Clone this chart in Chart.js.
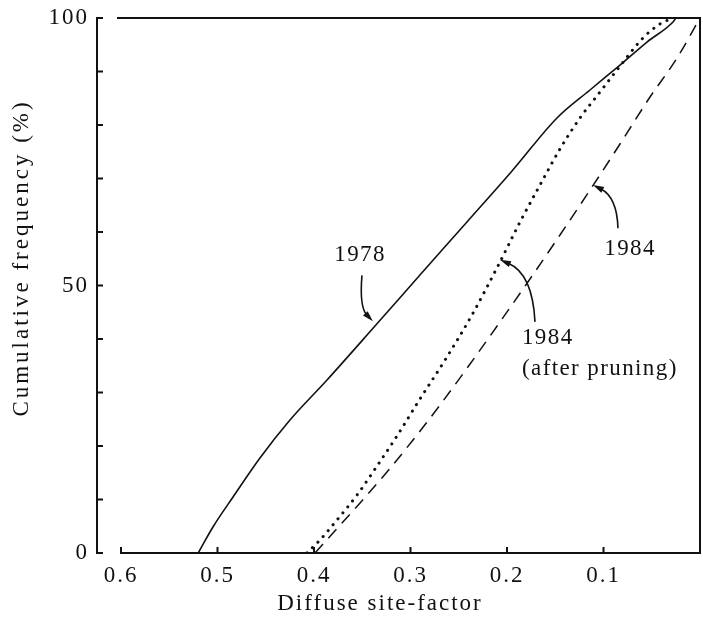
<!DOCTYPE html>
<html>
<head>
<meta charset="utf-8">
<script src="https://cdn.jsdelivr.net/npm/chart.js@4/dist/chart.umd.min.js"></script>
<style>
  html, body { margin: 0; padding: 0; background: #fff; }
  #wrap { width: 703px; height: 624px; position: relative; }
</style>
</head>
<body>
<div id="wrap"><canvas id="c"></canvas></div>
<script>
// ---- Data (x = diffuse site-factor, y = cumulative frequency %) ----
const x1978 = [0.520, 0.5047, 0.4839, 0.4560, 0.4249, 0.3865, 0.3368, 0.2902, 0.2415, 0.1948, 0.1482, 0.1140, 0.0829, 0.0549, 0.0280, 0.0249];
const y1978 = [0, 4.86, 10.47, 17.76, 24.86, 32.34, 42.43, 51.96, 61.87, 71.40, 81.31, 86.54, 91.21, 95.51, 99.25, 100];

const x1984p = [0.4073, 0.3938, 0.3762, 0.3554, 0.3347, 0.3140, 0.2902, 0.2642, 0.2363, 0.2073, 0.1865, 0.1658, 0.1451, 0.1244, 0.1036, 0.0860, 0.0591, 0.0415, 0.0280];
const y1984p = [0, 2.43, 6.17, 10.84, 16.26, 21.87, 28.79, 36.07, 44.49, 54.39, 61.87, 68.79, 75.51, 81.31, 86.17, 90.28, 96.26, 98.88, 100];

const x1984 = [0.3990, 0.3803, 0.3523, 0.3244, 0.2974, 0.2694, 0.2383, 0.2073, 0.1762, 0.1451, 0.1119, 0.0829, 0.0518, 0.0238, 0];
const y1984 = [0, 3.74, 9.35, 15.14, 21.12, 27.66, 35.33, 43.18, 51.21, 59.44, 68.41, 76.45, 85.23, 92.52, 100];

const xTickValues = [0.6, 0.5, 0.4, 0.3, 0.2, 0.1];
const yTickLabels = [0, 50, 100];
const xTitle = 'Diffuse site-factor';
const yTitle = 'Cumulative frequency (%)';

const toPts = (xs, ys) => xs.map((x, i) => ({ x: x, y: ys[i] }));

// ---- Annotation labels and arrows (in data coordinates) ----
const notes = [
  { text: ['1978'], at: [0.3523, 55.7], align: 'center' },
  { text: ['1984'], at: [0.0725, 56.8], align: 'center' },
  { text: ['1984', '(after pruning)'], at: [0.1845, 40.2], align: 'left', lineGap: 31 }
];
const arrows = [
  { from: [0.3503, 51.9], ctrl: [0.3530, 46.0], to: [0.3390, 43.3] },
  { from: [0.0850, 60.7], ctrl: [0.0860, 66.5], to: [0.1109, 68.8] },
  { from: [0.1710, 43.2], ctrl: [0.1735, 52.2], to: [0.2073, 54.8] }
];

const FONT = "'Liberation Serif', 'DejaVu Serif', serif";
const FS = 23;
const INK = '#111';

const framePlugin = {
  id: 'frame',
  beforeDraw(chart) {
    chart.ctx.letterSpacing = '2px';
  },
  beforeDatasetsDraw(chart) {
    const { ctx, scales: { x, y } } = chart;
    ctx.save();
    ctx.strokeStyle = INK;
    ctx.lineWidth = 2;
    ctx.lineCap = 'square';
    const y0 = y.getPixelForValue(0), y100 = y.getPixelForValue(100);
    const xl = x.getPixelForValue(0.6), xr = x.getPixelForValue(0);
    const ax = chart.chartArea.left - 24;
    // left (detached) y axis with inward ticks
    ctx.beginPath();
    ctx.moveTo(ax, y100); ctx.lineTo(ax, y0);
    for (let v = 0; v <= 100; v += 10) {
      const p = y.getPixelForValue(v);
      ctx.moveTo(ax, p); ctx.lineTo(ax + 5, p);
    }
    ctx.stroke();
    // bottom x axis with upward ticks
    ctx.beginPath();
    ctx.moveTo(xl, y0); ctx.lineTo(xr, y0);
    xTickValues.forEach(v => {
      const p = x.getPixelForValue(v);
      ctx.moveTo(p, y0); ctx.lineTo(p, y0 - 5);
    });
    ctx.stroke();
    // top and right frame
    ctx.beginPath();
    ctx.moveTo(xl - 3, y100); ctx.lineTo(xr, y100); ctx.lineTo(xr, y0);
    ctx.stroke();
    ctx.restore();
  },
  afterDraw(chart) {
    const { ctx, scales: { x, y } } = chart;
    ctx.save();
    ctx.fillStyle = INK;
    ctx.strokeStyle = INK;
    ctx.font = FS + 'px ' + FONT;
    ctx.letterSpacing = '2px';
    ctx.textBaseline = 'middle';
    // axis titles
    ctx.textAlign = 'center';
    ctx.fillText(xTitle, 380, 604);
    ctx.save();
    ctx.translate(22, 258);
    ctx.rotate(-Math.PI / 2);
    ctx.letterSpacing = '3px';
    ctx.fillText(yTitle, 0, 0);
    ctx.restore();
    // annotation texts
    ctx.letterSpacing = '1.4px';
    notes.forEach(n => {
      ctx.textAlign = n.align;
      const px = x.getPixelForValue(n.at[0]), py = y.getPixelForValue(n.at[1]);
      n.text.forEach((t, i) => ctx.fillText(t, px, py + i * (n.lineGap || 0)));
    });
    // arrows
    ctx.lineWidth = 1.6;
    arrows.forEach(a => {
      const P = p => [x.getPixelForValue(p[0]), y.getPixelForValue(p[1])];
      const f = P(a.from), c = P(a.ctrl), t = P(a.to);
      const ang = Math.atan2(t[1] - c[1], t[0] - c[0]);
      const L = 11, W = 3.2;
      const bx = t[0] - L * Math.cos(ang), by = t[1] - L * Math.sin(ang);
      ctx.beginPath();
      ctx.moveTo(f[0], f[1]);
      ctx.quadraticCurveTo(c[0], c[1], bx + 2 * Math.cos(ang), by + 2 * Math.sin(ang));
      ctx.stroke();
      ctx.beginPath();
      ctx.moveTo(t[0], t[1]);
      ctx.lineTo(bx - W * Math.sin(ang), by + W * Math.cos(ang));
      ctx.lineTo(bx + W * Math.sin(ang), by - W * Math.cos(ang));
      ctx.closePath();
      ctx.fill();
    });
    ctx.restore();
  }
};

const zeroPad = s => { s.paddingTop = 0; s.paddingBottom = 0; s.paddingLeft = 0; s.paddingRight = 0; };

new Chart(document.getElementById('c'), {
  type: 'line',
  data: {
    datasets: [
      { label: '1978', data: toPts(x1978, y1978), borderColor: INK, borderWidth: 1.6,
        pointRadius: 0, cubicInterpolationMode: 'monotone', fill: false },
      { label: '1984 (after pruning)', data: toPts(x1984p, y1984p), borderColor: INK, borderWidth: 3,
        borderDash: [0.1, 7.6], borderCapStyle: 'round', pointRadius: 0, cubicInterpolationMode: 'monotone', fill: false },
      { label: '1984', data: toPts(x1984, y1984), borderColor: INK, borderWidth: 1.5,
        borderDash: [12, 8], pointRadius: 0, cubicInterpolationMode: 'monotone', fill: false }
    ]
  },
  options: {
    responsive: true,
    maintainAspectRatio: false,
    animation: false,
    layout: { padding: { top: 18, right: 3, left: 0, bottom: 0 } },
    plugins: { legend: { display: false }, tooltip: { enabled: false } },
    scales: {
      x: {
        type: 'linear', reverse: true, min: 0, max: 0.6,
        grid: { display: false, drawTicks: false }, border: { display: false },
        afterFit(s) { s.height = 71; zeroPad(s); },
        ticks: {
          stepSize: 0.1, padding: 9, color: INK, maxRotation: 0,
          font: { family: FONT, size: FS },
          callback: v => xTickValues.some(t => Math.abs(t - v) < 1e-6) ? v.toFixed(1) : ''
        }
      },
      y: {
        type: 'linear', min: 0, max: 100,
        grid: { display: false, drawTicks: false }, border: { display: false },
        afterFit(s) { s.width = 121; zeroPad(s); },
        ticks: {
          stepSize: 10, padding: 32, color: INK,
          font: { family: FONT, size: FS },
          callback: v => yTickLabels.includes(Math.round(v)) ? String(Math.round(v)) : ''
        }
      }
    }
  },
  plugins: [framePlugin]
});
</script>
</body>
</html>
